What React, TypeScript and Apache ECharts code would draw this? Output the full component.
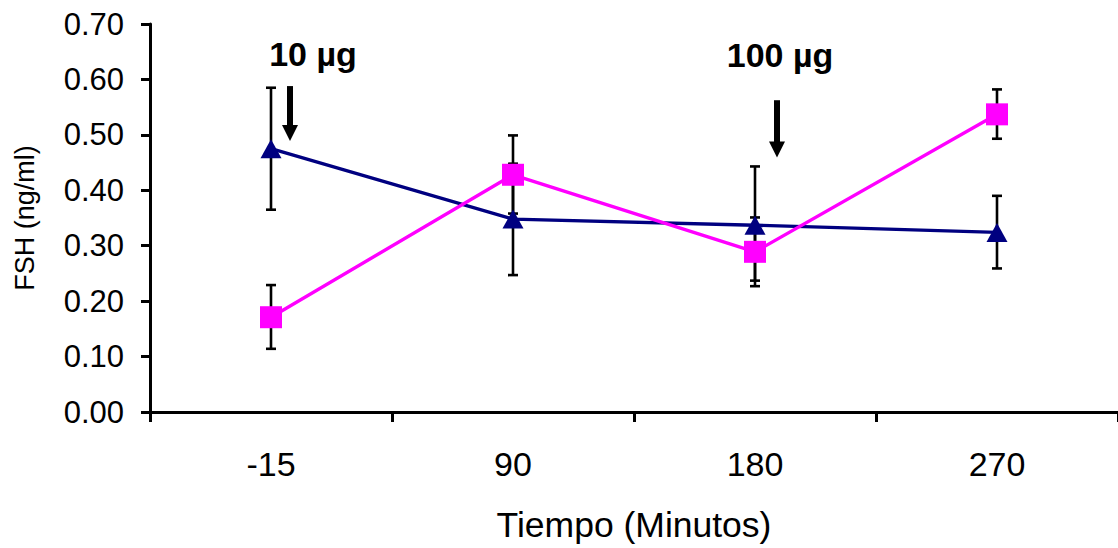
import React, { useEffect, useRef } from "react";
import * as echarts from "echarts";

const categories = ["-15", "90", "180", "270"];
const blueValues = [0.475, 0.348, 0.337, 0.324];
const blueLow = [0.365, 0.247, 0.237, 0.259];
const blueHigh = [0.585, 0.448, 0.443, 0.39];
const pinkValues = [0.171, 0.428, 0.289, 0.537];
const pinkLow = [0.114, 0.358, 0.227, 0.493];
const pinkHigh = [0.229, 0.499, 0.351, 0.582];

const doseLabels = ["10 µg", "100 µg"];
const doseCategory = [0, 2];
const doseArrowTop = [0.588, 0.5625];
const doseArrowTip = [0.489, 0.459];
const doseLabelLevel = [0.645, 0.644];

const arrowOffsetPx = [19, 22];
const labelOffsetPx = [42, 25];

const FONT = "Arial, 'Liberation Sans', Helvetica, sans-serif";

export default function App() {
  const ref = useRef<HTMLDivElement>(null);
  useEffect(() => {
    if (!ref.current) return;
    const chart = echarts.init(ref.current, undefined, { renderer: "svg" });
    const errData: any[] = [];
    categories.forEach((_, i) => {
      errData.push([i, blueLow[i], blueHigh[i]]);
      errData.push([i, pinkLow[i], pinkHigh[i]]);
    });
    const doseData = doseLabels.map((_, i) => [doseCategory[i], doseArrowTop[i], doseArrowTip[i], doseLabelLevel[i]]);

    chart.setOption({
      animation: false,
      grid: { left: 150, right: -4, top: 24, bottom: 135, containLabel: false },
      xAxis: {
        type: "category",
        data: categories,
        boundaryGap: true,
        axisLine: { show: true, lineStyle: { color: "#000", width: 3 } },
        axisTick: { show: true, length: 10, lineStyle: { color: "#000", width: 3 } },
        axisLabel: { fontSize: 34, color: "#000", fontFamily: FONT, margin: 35 },
        name: "Tiempo (Minutos)",
        nameLocation: "middle",
        nameGap: 95,
        nameTextStyle: { fontSize: 35.5, color: "#000", fontFamily: FONT },
        splitLine: { show: false },
      },
      yAxis: {
        type: "value",
        min: 0,
        max: 0.7,
        interval: 0.1,
        axisLine: { show: true, lineStyle: { color: "#000", width: 3 } },
        axisTick: { show: true, length: 9, lineStyle: { color: "#000", width: 3 } },
        axisLabel: {
          fontSize: 31,
          color: "#000",
          fontFamily: FONT,
          margin: 26,
          formatter: (v: number) => v.toFixed(2),
        },
        splitLine: { show: false },
        name: "FSH (ng/ml)",
        nameLocation: "middle",
        nameGap: 112,
        nameRotate: 90,
        nameTextStyle: { fontSize: 27, color: "#000", fontFamily: FONT },
      },
      series: [
        {
          type: "custom",
          z: 1,
          data: errData,
          renderItem: (params: any, api: any) => {
            const lo = api.coord([api.value(0), api.value(1)]);
            const hi = api.coord([api.value(0), api.value(2)]);
            const x = lo[0];
            const hw = 5;
            const st = { stroke: "#000", lineWidth: 2.6 };
            return {
              type: "group",
              children: [
                { type: "line", shape: { x1: x, y1: lo[1], x2: x, y2: hi[1] }, style: st },
                { type: "line", shape: { x1: x - hw, y1: lo[1], x2: x + hw, y2: lo[1] }, style: st },
                { type: "line", shape: { x1: x - hw, y1: hi[1], x2: x + hw, y2: hi[1] }, style: st },
              ],
            };
          },
        },
        {
          type: "line",
          z: 3,
          data: blueValues,
          symbol: "triangle",
          symbolSize: [21, 19],
          lineStyle: { color: "#000080", width: 3.4 },
          itemStyle: { color: "#000080" },
        },
        {
          type: "line",
          z: 4,
          data: pinkValues,
          symbol: "rect",
          symbolSize: 22,
          lineStyle: { color: "#FF00FF", width: 3.4 },
          itemStyle: { color: "#FF00FF" },
        },
        {
          type: "custom",
          z: 5,
          data: doseData,
          renderItem: (params: any, api: any) => {
            const i = params.dataIndex;
            const ci = api.value(0);
            const top = api.coord([ci, api.value(1)]);
            const tip = api.coord([ci, api.value(2)]);
            const lab = api.coord([ci, api.value(3)]);
            const x = top[0] + arrowOffsetPx[i];
            const headLen = 16;
            const headHalf = 8;
            return {
              type: "group",
              children: [
                {
                  type: "rect",
                  shape: { x: x - 3, y: top[1], width: 6, height: tip[1] - headLen - top[1] + 1 },
                  style: { fill: "#000" },
                },
                {
                  type: "polygon",
                  shape: {
                    points: [
                      [x - headHalf, tip[1] - headLen],
                      [x + headHalf, tip[1] - headLen],
                      [x, tip[1]],
                    ],
                  },
                  style: { fill: "#000" },
                },
                {
                  type: "text",
                  style: {
                    text: doseLabels[i],
                    x: top[0] + labelOffsetPx[i],
                    y: lab[1],
                    fill: "#000",
                    font: `bold 34px ${FONT}`,
                    textAlign: "center",
                    textVerticalAlign: "middle",
                    align: "center",
                    verticalAlign: "middle",
                  },
                },
              ],
            };
          },
        },
      ],
    });
    return () => chart.dispose();
  }, []);
  return (
    <div
      ref={ref}
      style={{ position: "absolute", left: 0, top: 0, width: 1118, height: 548, background: "#fff" }}
    />
  );
}
